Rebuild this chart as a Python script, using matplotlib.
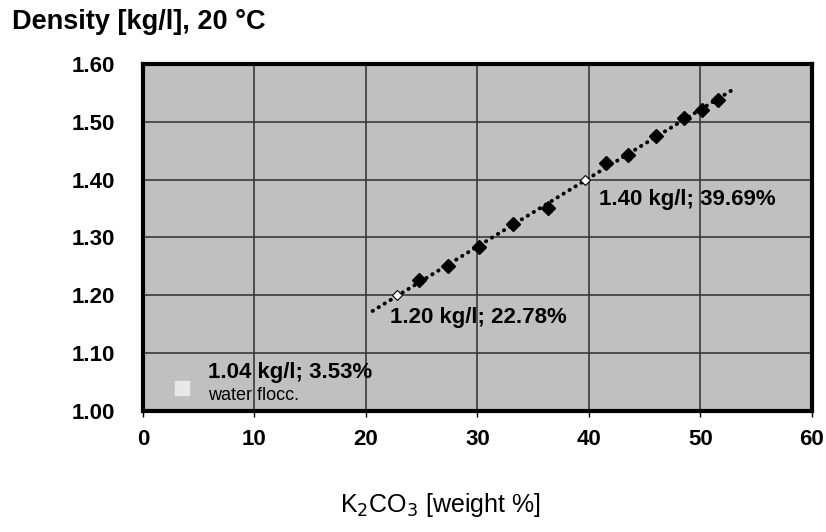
import numpy as np
import matplotlib
matplotlib.use("Agg")
import matplotlib.pyplot as plt

plt.rcParams['font.family'] = ['Liberation Sans', 'DejaVu Sans']

# measured points (K2CO3 weight %, density kg/l)
pctMeasured = [24.8, 27.4, 30.1, 33.2, 36.3, 41.5, 43.5, 46.0, 48.5, 50.1, 51.6]
densMeasured = [1.226, 1.251, 1.283, 1.323, 1.350, 1.428, 1.443, 1.475, 1.506, 1.521, 1.537]

# marked reference points
pctRef = [22.78, 39.69]
densRef = [1.20, 1.40]
pctWater = [3.53]
densWater = [1.04]

# trendline extent
trendRange = [20.6, 53.0]

xTicks = [0, 10, 20, 30, 40, 50, 60]
yTicks = [1.00, 1.10, 1.20, 1.30, 1.40, 1.50, 1.60]

fig = plt.figure(figsize=(8.26, 5.32), dpi=100)
ax = fig.add_axes([0.173, 0.2274, 0.810, 0.6526])
ax.set_facecolor('#c0c0c0')

# linear fit through all points on the line
allX = np.array(pctMeasured + pctRef)
allY = np.array(densMeasured + densRef)
k, d = np.polyfit(allX, allY, 1)
tx = np.array(trendRange)
ax.plot(tx, k * tx + d, color='black', linestyle=(0, (0.1, 1.7)), linewidth=2.8,
        dash_capstyle='round', zorder=3)

ax.plot(pctMeasured, densMeasured, linestyle='none', marker='D', markersize=7,
        color='black', zorder=4)
ax.plot(pctRef, densRef, linestyle='none', marker='D', markersize=5.5,
        markerfacecolor='white', markeredgecolor='black', markeredgewidth=0.8, zorder=4)
ax.plot(pctWater, densWater, linestyle='none', marker='s', markersize=10,
        color='#e8e8e8', zorder=4)

ax.set_xlim(0, 60)
ax.set_ylim(1.0, 1.6)
ax.set_xticks(xTicks)
ax.set_yticks(yTicks)
ax.set_xticklabels([str(v) for v in xTicks], fontsize=16, fontweight='bold')
ax.set_yticklabels(['%.2f' % v for v in yTicks], fontsize=16, fontweight='bold')
ax.tick_params(axis='y', length=0, pad=20)
ax.tick_params(axis='x', length=4, direction='out', pad=9, width=1)
ax.grid(True, color='#3a3a3a', linewidth=1.2)
ax.set_axisbelow(True)
for s in ax.spines.values():
    s.set_linewidth(3)
    s.set_color('black')

ax.text(40.9, 1.365, '1.40 kg/l; 39.69%', fontsize=16, fontweight='bold', va='center')
ax.text(22.2, 1.162, '1.20 kg/l; 22.78%', fontsize=16, fontweight='bold', va='center')
ax.text(5.8, 1.066, '1.04 kg/l; 3.53%', fontsize=16, fontweight='bold', va='center')
ax.text(5.8, 1.026, 'water flocc.', fontsize=13, va='center')

fig.text(0.014, 0.958, 'Density [kg/l], 20 °C', fontsize=19.5, fontweight='bold', va='center')
fig.text(0.533, 0.05, r'K$_2$CO$_3$ [weight %]', fontsize=18, ha='center', va='center')

fig.savefig('out.png', dpi=100)
